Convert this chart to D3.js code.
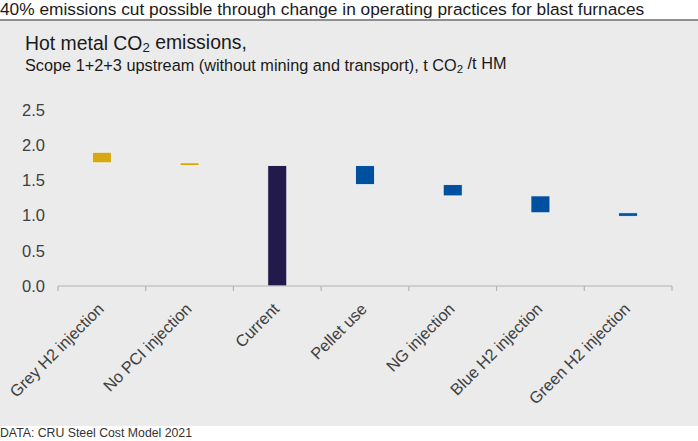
<!DOCTYPE html>
<html>
<head>
<meta charset="utf-8">
<script src="https://cdn.jsdelivr.net/npm/d3@7"></script>
<style>
  body { margin: 0; background: #fff; }
  svg { display: block; font-family: "Liberation Sans", Arial, sans-serif; }
</style>
</head>
<body>
<svg width="698" height="441"></svg>
<script>
// chart data
var categories = ["Grey H2 injection", "No PCI injection", "Current", "Pellet use",
                  "NG injection", "Blue H2 injection", "Green H2 injection"];
var lowValues  = [1.75, 1.71, 0,    1.44, 1.28, 1.04, 0.99];
var highValues = [1.90, 1.75, 1.71, 1.71, 1.44, 1.28, 1.04];
var barKinds   = ["up", "up", "total", "down", "down", "down", "down"];
var yTicks     = [0, 0.5, 1.0, 1.5, 2.0, 2.5];

var colours = {up: "#d9a713", total: "#211a4a", down: "#0050a0"};

var svg = d3.select("svg");
var W = 698, H = 441;

// grow/shrink a text's font so it spans the wanted width
function fitWidth(sel, target) {
  var fs = parseFloat(sel.attr("font-size"));
  var w = sel.node().getBBox().width;
  sel.attr("font-size", fs * target / w);
}

// headline and rule
var head = svg.append("text")
  .attr("x", 0).attr("y", 15)
  .attr("font-size", 16).attr("fill", "#1a1a1a")
  .text("40% emissions cut possible through change in operating practices for blast furnaces");
fitWidth(head, 645);

svg.append("rect")
  .attr("x", 0).attr("y", 20.5).attr("width", W).attr("height", 405.5)
  .attr("fill", "#ebebeb");

svg.append("line")
  .attr("x1", 0).attr("x2", W).attr("y1", 20).attr("y2", 20)
  .attr("stroke", "#6b6b6b").attr("stroke-width", 1.5);

// chart title
var t = svg.append("text")
  .attr("x", 25).attr("y", 50)
  .attr("font-size", 18).attr("fill", "#1a1a1a");
t.append("tspan").text("Hot metal CO");
t.append("tspan").attr("font-size", "0.68em").attr("dy", "0.15em").text("2");
t.append("tspan").attr("dy", "-0.15em").text(" emissions,");
fitWidth(t, 222);

var s = svg.append("text")
  .attr("x", 25).attr("y", 70.5)
  .attr("font-size", 14).attr("fill", "#1a1a1a");
s.append("tspan").text("Scope 1+2+3 upstream (without mining and transport), t CO");
s.append("tspan").attr("font-size", "0.7em").attr("dy", "0.25em").text("2");
s.append("tspan").attr("dy", "-0.25em").text(" /t HM");
fitWidth(s, 482);

// scales
var x = d3.scaleBand().domain(categories).range([58, 672]).padding(0);
var y = d3.scaleLinear().domain([0, 2.5]).range([286, 110]);
var barW = 19;

// y axis: labels only
var yAxis = svg.append("g")
  .attr("transform", "translate(53,0)")
  .call(d3.axisLeft(y).tickValues(yTicks).tickFormat(d3.format(".1f")).tickSize(0).tickPadding(8));
yAxis.select(".domain").remove();
yAxis.selectAll("text")
  .attr("font-size", 16.5).attr("fill", "#404040")
  .attr("font-family", "Liberation Sans, Arial, sans-serif");

// bars
var rows = categories.map(function(c, i) {
  return {cat: c, lo: lowValues[i], hi: highValues[i], kind: barKinds[i]};
});

svg.append("g").selectAll("rect")
  .data(rows)
  .enter()
  .append("rect")
  .attr("x", function(d) { return x(d.cat) + x.bandwidth() / 2 - barW / 2; })
  .attr("y", function(d) { return y(d.hi); })
  .attr("width", barW)
  .attr("height", function(d) { return y(d.lo) - y(d.hi); })
  .attr("fill", function(d) { return colours[d.kind]; })
  .attr("stroke", "#f7f7f7").attr("stroke-width", 0.8);

// x axis: line + boundary ticks
var xAxis = svg.append("g").attr("transform", "translate(0,286)");
xAxis.append("line")
  .attr("x1", x.range()[0]).attr("x2", x.range()[1])
  .attr("stroke", "#b4b4b4").attr("stroke-width", 1.2);
var bounds = categories.map(function(c) { return x(c); }).concat([x.range()[1]]);
xAxis.selectAll("line.tick")
  .data(bounds)
  .enter()
  .append("line")
  .attr("class", "tick")
  .attr("x1", function(d) { return d; }).attr("x2", function(d) { return d; })
  .attr("y1", 0).attr("y2", 5)
  .attr("stroke", "#b4b4b4").attr("stroke-width", 1.2);

svg.append("g").selectAll("text")
  .data(categories)
  .enter()
  .append("text")
  .attr("transform", function(d) {
    return "translate(" + (x(d) + x.bandwidth() / 2 + 3) + ",310) rotate(-45)";
  })
  .attr("text-anchor", "end")
  .attr("font-size", 16.3).attr("fill", "#404040")
  .text(function(d) { return d; });

// source
svg.append("text")
  .attr("x", 0).attr("y", 437)
  .attr("font-size", 12).attr("fill", "#333")
  .attr("textLength", 192).attr("lengthAdjust", "spacingAndGlyphs")
  .text("DATA: CRU Steel Cost Model 2021");
</script>
</body>
</html>
